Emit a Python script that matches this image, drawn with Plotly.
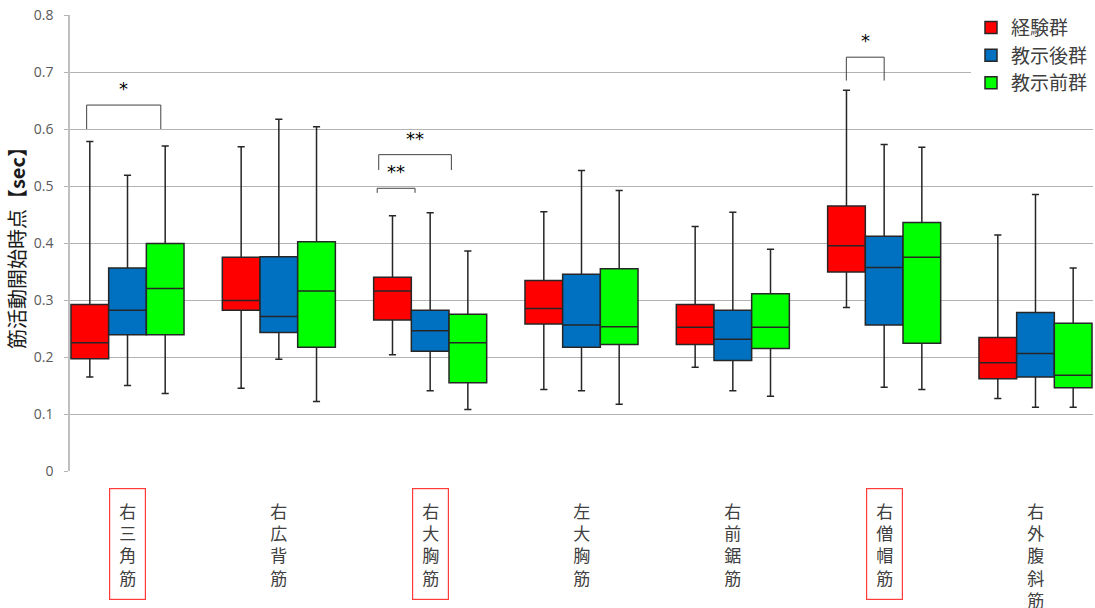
import plotly.graph_objects as go

# Muscles (category axis)
muscles = ["右三角筋", "右広背筋", "右大胸筋", "左大胸筋", "右前鋸筋", "右僧帽筋", "右外腹斜筋"]
highlighted = [True, False, True, False, False, True, False]

# Series names and colours
series_names = ["経験群", "教示後群", "教示前群"]
series_colors = ["#FF0000", "#0070C0", "#00FF00"]

# Box statistics per series [sec]
exp_low = [0.165, 0.145, 0.204, 0.143, 0.182, 0.287, 0.127]
exp_q1 = [0.197, 0.282, 0.265, 0.258, 0.222, 0.349, 0.162]
exp_med = [0.225, 0.299, 0.316, 0.285, 0.252, 0.395, 0.190]
exp_q3 = [0.292, 0.375, 0.340, 0.334, 0.292, 0.465, 0.234]
exp_high = [0.578, 0.569, 0.448, 0.455, 0.429, 0.668, 0.414]

post_low = [0.150, 0.196, 0.141, 0.141, 0.141, 0.147, 0.112]
post_q1 = [0.239, 0.243, 0.210, 0.217, 0.194, 0.256, 0.165]
post_med = [0.282, 0.271, 0.246, 0.256, 0.231, 0.357, 0.206]
post_q3 = [0.356, 0.376, 0.282, 0.345, 0.282, 0.412, 0.278]
post_high = [0.519, 0.617, 0.453, 0.527, 0.454, 0.573, 0.485]

pre_low = [0.136, 0.122, 0.108, 0.117, 0.131, 0.143, 0.112]
pre_q1 = [0.239, 0.217, 0.155, 0.222, 0.215, 0.224, 0.146]
pre_med = [0.320, 0.316, 0.225, 0.253, 0.252, 0.375, 0.168]
pre_q3 = [0.399, 0.402, 0.275, 0.355, 0.311, 0.436, 0.259]
pre_high = [0.570, 0.604, 0.386, 0.492, 0.389, 0.568, 0.356]

series_stats = [
    (exp_low, exp_q1, exp_med, exp_q3, exp_high),
    (post_low, post_q1, post_med, post_q3, post_high),
    (pre_low, pre_q1, pre_med, pre_q3, pre_high),
]

# Significance brackets: (muscle index, left end, right end, top, leg bottom, label)
bracket_group = [0, 2, 2, 5]
bracket_left = [-0.27, -0.35, -0.34, -0.25]
bracket_right = [0.22, -0.10, 0.14, 0.0]
bracket_top = [0.642, 0.496, 0.555, 0.726]
bracket_foot = [0.600, 0.488, 0.528, 0.685]
bracket_label = ["*", "**", "**", "*"]

BOX_W = 0.249
offsets = [-BOX_W, 0.0, BOX_W]

fig = go.Figure()

for name, color, off, (lo, q1, med, q3, hi) in zip(series_names, series_colors, offsets, series_stats):
    fig.add_trace(go.Box(
        name=name,
        x=[i + off for i in range(len(muscles))],
        lowerfence=lo, q1=q1, median=med, q3=q3, upperfence=hi,
        width=BOX_W,
        whiskerwidth=0.19,
        fillcolor=color,
        line=dict(color="#262626", width=1.5),
        boxpoints=False,
        hoverinfo="skip",
    ))

for g, xl, xr, yt, yf, lab in zip(bracket_group, bracket_left, bracket_right,
                                  bracket_top, bracket_foot, bracket_label):
    fig.add_shape(type="path",
                  path=f"M {g + xl},{yf} L {g + xl},{yt} L {g + xr},{yt} L {g + xr},{yf}",
                  xref="x", yref="y", line=dict(color="#404040", width=1))
    fig.add_annotation(x=g + (xl + xr) / 2, y=yt, xref="x", yref="y",
                       text=lab, showarrow=False, yanchor="bottom", yshift=4,
                       font=dict(family="DejaVu Sans", size=18, color="#000000"))

# Vertical category labels under the axis
for i, (m, hl) in enumerate(zip(muscles, highlighted)):
    fig.add_annotation(x=i, y=-0.037, xref="x", yref="paper",
                       text="<br>".join(m), showarrow=False,
                       xanchor="center", yanchor="top",
                       font=dict(family="Noto Sans CJK JP", size=17, color="#404040"),
                       bordercolor="#ff3b3b" if hl else "rgba(0,0,0,0)",
                       borderwidth=1.2, borderpad=9)

fig.update_layout(
    width=1095, height=608,
    margin=dict(l=70, r=2, t=15, b=137),
    paper_bgcolor="white", plot_bgcolor="white",
    showlegend=True,
    legend=dict(x=1, xanchor="right", y=1.014, yanchor="top",
                bgcolor="white", font=dict(family="Noto Sans CJK JP", size=19, color="#404040"),
                itemwidth=30, tracegroupgap=2),
    xaxis=dict(range=[-0.38, 6.38], showticklabels=False, showgrid=False,
               zeroline=False, ticks=""),
    yaxis=dict(range=[0, 0.8], dtick=0.1, tickformat="",
               showgrid=True, gridcolor="#b3b3b3", gridwidth=1,
               showline=True, linecolor="#bfbfbf", linewidth=1.5,
               zeroline=False, ticks="outside", ticklen=4, tickcolor="#b3b3b3",
               ticklabelstandoff=8,
               tickfont=dict(family="Open Sans", size=14, color="#595959"),
               title=dict(text="筋活動開始時点【<b>sec</b>】", standoff=3,
                          font=dict(family="Noto Sans CJK JP", size=20, color="#1a1a1a"))),
)

fig.write_html("out.html")
